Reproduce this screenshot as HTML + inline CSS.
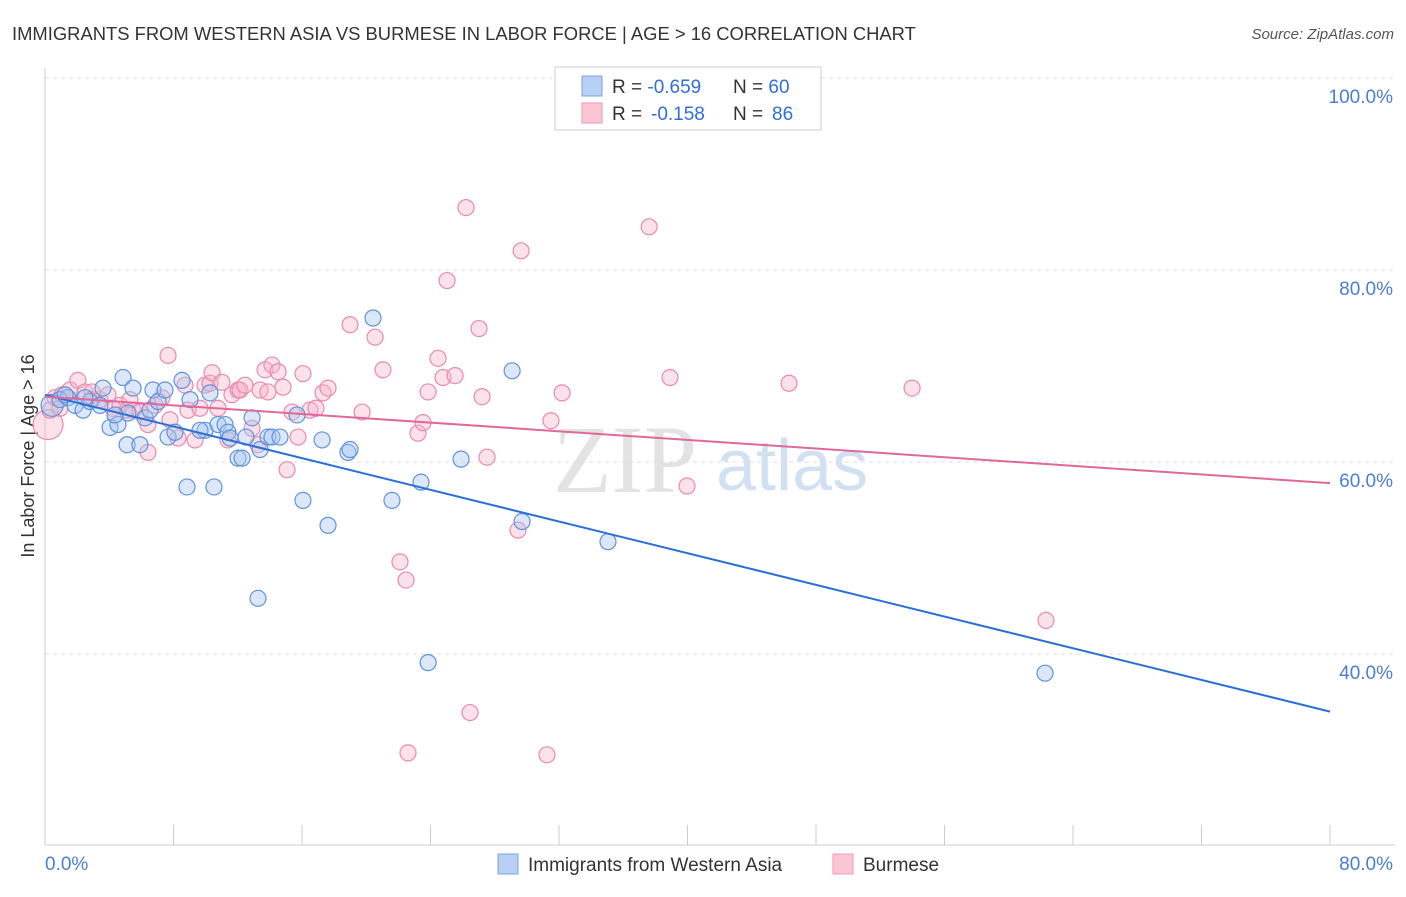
<!DOCTYPE html>
<html><head><meta charset="utf-8"><style>
body{margin:0;background:#fff;font-family:"Liberation Sans",sans-serif;}
</style></head><body>
<svg id="chart" width="1406" height="892" xmlns="http://www.w3.org/2000/svg" font-family="Liberation Sans, sans-serif">
<text x="12" y="40" font-size="18.4" fill="#333">IMMIGRANTS FROM WESTERN ASIA VS BURMESE IN LABOR FORCE | AGE &gt; 16 CORRELATION CHART</text>
<text x="1394" y="39" font-size="15" fill="#555" font-style="italic" text-anchor="end">Source: ZipAtlas.com</text>
<text transform="translate(34,456) rotate(-90)" font-size="18" fill="#333" text-anchor="middle">In Labor Force | Age &gt; 16</text>
<g><text x="553" y="492" font-size="96" fill="#ddd" font-family="Liberation Serif, serif" opacity="0.8">ZIP</text><text x="716" y="490" font-size="72" fill="#c8daf0" opacity="0.8">atlas</text></g>
<g id="grid"></g><g id="marks"></g>
<g>
<rect x="555" y="67" width="266" height="63" fill="#fff" stroke="#ccc"/>
<rect x="582" y="76" width="20" height="20" fill="#b7d0f4" stroke="#7aa6e4"/>
<rect x="582" y="103" width="20" height="20" fill="#f9c6d6" stroke="#ee9ab8"/>
<text x="612" y="93" font-size="19" fill="#333">R = <tspan fill="#2f6fd6">-0.659</tspan></text>
<text x="733" y="93" font-size="19" fill="#333">N = <tspan fill="#2f6fd6">60</tspan></text>
<text x="612" y="120" font-size="19" fill="#333">R = <tspan x="651" fill="#2f6fd6">-0.158</tspan></text>
<text x="733" y="120" font-size="19" fill="#333">N = <tspan x="772" fill="#2f6fd6">86</tspan></text>
</g>
<g>
<rect x="498" y="854" width="20" height="20" fill="#b7d0f4" stroke="#7aa6e4"/>
<text x="528" y="871" font-size="19" fill="#333">Immigrants from Western Asia</text>
<rect x="833" y="854" width="20" height="20" fill="#f9c6d6" stroke="#ee9ab8"/>
<text x="863" y="871" font-size="19" fill="#333">Burmese</text>
</g>
</svg>
<script>
const yTicks=[100,80,60,40];
const yTickLabels=["100.0%","80.0%","60.0%","40.0%"];
const xTickLabels=["0.0%","80.0%"];
const blueX=[0.44,0.93,1.43,1.87,2.37,2.80,3.61,4.05,4.54,4.86,5.11,5.48,5.91,6.23,6.54,6.72,7.04,7.47,7.66,8.09,8.53,8.84,9.03,9.96,10.27,10.52,10.77,11.21,11.39,12.02,12.27,12.51,12.89,13.39,13.88,14.13,14.63,15.69,16.06,17.25,17.62,18.86,18.99,20.42,21.60,23.41,23.85,25.90,29.08,29.70,35.05,62.26,13.26,5.17,3.42,2.49,4.36,9.65,11.52,1.25];
const blueY=[65.9,66.5,66.7,65.9,65.4,66.3,67.7,63.6,63.9,68.8,61.8,67.7,61.8,64.6,65.4,67.5,66.3,67.5,62.6,63.1,68.5,57.4,66.5,63.3,67.2,57.4,63.9,63.9,63.1,60.4,60.4,62.6,64.6,61.3,62.6,62.6,62.6,64.9,56.0,62.3,53.4,61.0,61.3,75.0,56.0,57.9,39.1,60.3,69.5,53.8,51.7,38.0,45.8,65.1,65.9,66.7,64.9,63.3,62.5,67.0];
const pinkX=[0.19,0.31,0.62,1.06,1.56,2.05,2.49,2.93,3.42,3.92,4.23,4.67,5.11,5.48,5.91,6.41,6.41,6.85,7.28,7.66,7.78,8.28,8.72,8.90,9.34,9.65,9.96,10.27,10.40,10.77,11.02,11.39,11.64,12.02,12.14,12.45,12.89,13.26,13.39,13.70,13.88,14.13,14.51,14.82,15.07,15.38,15.75,16.06,16.50,16.87,17.31,17.62,18.99,19.74,20.55,21.04,22.10,22.48,22.60,23.22,23.53,23.85,24.47,24.78,25.03,25.53,26.21,26.46,27.02,27.21,27.52,29.45,29.64,31.25,31.50,32.19,37.61,38.91,39.97,46.32,53.98,62.32,2.93,4.36,5.29,0.93];
const pinkY=[63.9,65.4,66.7,67.0,67.5,68.5,67.3,66.5,66.5,67.0,65.6,65.9,65.4,65.4,65.2,63.9,61.0,65.9,66.7,71.1,64.4,62.5,68.0,65.4,62.3,65.6,68.0,68.2,69.3,65.6,68.3,62.3,67.0,67.5,67.5,68.0,63.5,61.8,67.5,69.6,67.3,70.1,69.4,67.8,59.2,65.2,62.6,69.2,65.4,65.6,67.2,67.7,74.3,65.2,73.0,69.6,49.6,47.7,29.7,63.0,64.1,67.3,70.8,68.8,78.9,69.0,86.5,33.9,73.9,66.8,60.5,52.9,82.0,29.5,64.3,67.2,84.5,68.8,57.5,68.2,67.7,43.5,67.3,64.9,66.5,65.6];
const blueTrend=[67.0,34.0];
const pinkTrend=[66.8,57.8];
const X=v=>45+v/80*1285, Y=v=>78+(100-v)*9.6;
const NS="http://www.w3.org/2000/svg";
const grid=document.getElementById('grid'), marks=document.getElementById('marks');
function mk(tag,attrs,parent){const e=document.createElementNS(NS,tag);for(const k in attrs)e.setAttribute(k,attrs[k]);parent.appendChild(e);return e;}
yTicks.forEach((t,i)=>{
 const l=mk('line',{x1:45,x2:1395,y1:Y(t),y2:Y(t),stroke:'#ddd','stroke-dasharray':'4,4'},grid);
 
 
 const tx=mk('text',{x:1393,y:Y(t)+25,'font-size':19,fill:'#4a7fd0','text-anchor':'end'},grid);
 tx.textContent=yTickLabels[i];
 
 
});
const ax=mk('line',{x1:45,x2:1395,y1:845,y2:845,stroke:'#ccc'},grid);


const ay=mk('line',{x1:45,x2:45,y1:68,y2:845,stroke:'#ccc'},grid);


for(let i=0;i<=10;i++){
 const t=mk('line',{x1:X(i*8),x2:X(i*8),y1:825,y2:845,stroke:'#ccc'},grid);
 
 
}
[[0,'start',45],[80,'end',1393]].forEach((d,i)=>{
 const tx=mk('text',{x:d[2],y:870,'font-size':19,fill:'#4a7fd0','text-anchor':d[1]},grid);
 tx.textContent=xTickLabels[i];
 
 
});
function pts(xs,ys,fill,stroke,name){
 xs.forEach((x,i)=>{
  const r=(i===0)?(name==='pink-point'?15:11):8;
  const c=mk('circle',{cx:X(x),cy:Y(ys[i]),r:r,fill:fill,'fill-opacity':0.4,stroke:stroke,'stroke-width':1.2},marks);
  
  
 });
}
pts(pinkX,pinkY,'#f6b3c9','#ea8aad','pink-point');
pts(blueX,blueY,'#a7c5ef','#5f93dc','blue-point');
const bl=mk('line',{x1:X(0),y1:Y(blueTrend[0]),x2:X(80),y2:Y(blueTrend[1]),stroke:'#2a6fd6','stroke-width':2},marks);


const pl=mk('line',{x1:X(0),y1:Y(pinkTrend[0]),x2:X(80),y2:Y(pinkTrend[1]),stroke:'#e0689a','stroke-width':2},marks);


</script>
</body></html>
